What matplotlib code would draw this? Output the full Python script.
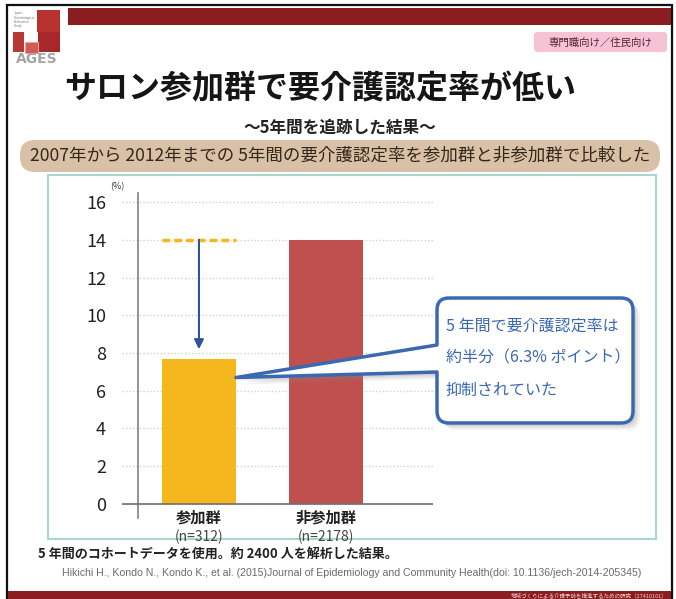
import matplotlib

matplotlib.use("Agg")

import matplotlib.pyplot as plt
from matplotlib.patches import FancyBboxPatch, PathPatch, Rectangle
from matplotlib.path import Path

plt.rcParams["font.family"] = ["Noto Sans CJK JP", "DejaVu Sans"]

# data
groups = ["参加群", "非参加群"]
sample_sizes = ["(n=312)", "(n=2178)"]
rates = [7.7, 14.0]
y_ticks = [0, 2, 4, 6, 8, 10, 12, 14, 16]

title = "サロン参加群で要介護認定率が低い"
subtitle = "～5年間を追跡した結果～"
banner = "2007年から 2012年までの 5年間の要介護認定率を参加群と非参加群で比較した"
callout_lines = ["5 年間で要介護認定率は", "約半分（6.3% ポイント）", "抑制されていた"]
footnote = "5 年間のコホートデータを使用。約 2400 人を解析した結果。"
citation = ("Hikichi H., Kondo N., Kondo K., et al. (2015)Journal of Epidemiology and "
            "Community Health(doi: 10.1136/jech-2014-205345)")

W, H = 676, 599
DARK_RED = "#8b1c20"
ORANGE = "#f4b71d"
RED = "#c0504d"
BLUE = "#3a69b2"

fig = plt.figure(figsize=(W / 100, H / 100), dpi=100)


def pixel_axes(label, zorder):
    axis = fig.add_axes([0, 0, 1, 1], label=label, zorder=zorder)
    axis.set_xlim(0, W)
    axis.set_ylim(H, 0)
    axis.axis("off")
    axis.patch.set_alpha(0)
    return axis


bg = pixel_axes("background", 0)

# slide frame and bands
bg.add_patch(Rectangle((7, 5), 665, 593, facecolor="none", edgecolor="#111111", lw=1.6))
bg.add_patch(Rectangle((68, 8), 603, 17, facecolor=DARK_RED, edgecolor="none"))
bg.add_patch(Rectangle((8, 591), 663, 8, facecolor=DARK_RED, edgecolor="none"))
bg.text(668, 595.5, "地域づくりによる介護予防を推進するための研究（27410101）",
        fontsize=4, color="#f0d8d8", ha="right", va="center")

# logo
bg.add_patch(Rectangle((37, 10), 23, 22, facecolor="#b83230", edgecolor="none"))
bg.add_patch(Rectangle((38, 32), 22, 20, facecolor="#a8282a", edgecolor="none"))
bg.add_patch(Rectangle((13, 32), 11, 20, facecolor="#b53a36", edgecolor="none"))
bg.add_patch(Rectangle((25, 42), 13, 11, facecolor="#d35a55", edgecolor="#e8a0a0", lw=0.8))
for i, word in enumerate(["Japan", "Gerontological", "Evaluation", "Study"]):
    bg.text(14, 13 + i * 4.5, word, fontsize=2.2, color="#777777", va="center",
            family="DejaVu Sans")
bg.text(37, 59, "AGES", fontsize=10, fontweight="bold", color="#a4a4a4",
        ha="center", va="center", family="DejaVu Sans")

# target audience tag
bg.add_patch(FancyBboxPatch((534, 32), 133, 20, boxstyle="round,pad=0,rounding_size=3",
                            facecolor="#f5c3d5", edgecolor="none"))
bg.text(600, 42.5, "専門職向け／住民向け", fontsize=7.5, color="#5a2030",
        ha="center", va="center")

# titles
bg.text(320, 89, title, fontsize=23, fontweight="bold", color="#151515",
        ha="center", va="center")
bg.text(340, 128, subtitle, fontsize=12, fontweight="bold", color="#222222",
        ha="center", va="center")

bg.add_patch(FancyBboxPatch((20, 140), 640, 32, boxstyle="round,pad=0,rounding_size=15",
                            facecolor="#d8c1a6", edgecolor="none"))
bg.text(340, 156, banner, fontsize=12.6, color="#33261b", ha="center", va="center")

# chart panel
bg.add_patch(Rectangle((48, 175), 608, 364, facecolor="white", edgecolor="#aad6d0", lw=1.5))
bg.text(110, 187, "(%)", fontsize=6.5, color="#333333", va="center")

bg.text(38, 554, footnote, fontsize=9.4, fontweight="bold", color="#222222", va="center")
bg.text(62, 573, citation, fontsize=7.6, color="#6a6a6a", va="center",
        family="Liberation Sans")

# bar chart
ax = fig.add_axes([122 / W, (H - 518) / H, 311 / W, 325 / H], zorder=1)
ax.patch.set_alpha(0)
bar_width = 0.583
positions = list(range(len(groups)))
ax.bar(positions, rates, width=bar_width, color=[ORANGE, RED], zorder=2)

ax.set_xlim(-0.606, 1.843)
ax.set_ylim(-0.742, 16.477)
ax.set_yticks(y_ticks)
ax.set_xticks([])
ax.grid(axis="y", linestyle=(0, (1, 1.5)), color="#d0d0d0", lw=1, zorder=0)
for side in ["top", "right", "bottom"]:
    ax.spines[side].set_visible(False)
ax.spines["left"].set_position(("data", -0.48))
ax.spines["left"].set_color("#808080")
ax.spines["left"].set_linewidth(1.2)
ax.axhline(0, color="#707070", lw=1.2, zorder=3)
ax.tick_params(axis="y", length=0, pad=23, labelsize=13, labelcolor="#222222")

for pos, name, n in zip(positions, groups, sample_sizes):
    ax.annotate(name, (pos, 0), xytext=(0, -9.5), textcoords="offset points",
                ha="center", va="center", fontsize=11, fontweight="bold", color="#222222")
    ax.annotate(n, (pos, 0), xytext=(0, -23.5), textcoords="offset points",
                ha="center", va="center", fontsize=10, color="#444444")

# non-participant level carried over the participant bar
ax.hlines(rates[1], positions[0] - bar_width / 2, positions[0] + bar_width / 2,
          colors=ORANGE, linestyles=(0, (2.2, 1.2)), lw=2.5, zorder=3)
ax.annotate("", xy=(positions[0], rates[0] + 0.5), xytext=(positions[0], rates[1]),
            arrowprops=dict(arrowstyle="-|>", color="#2f5597", lw=1.5,
                            mutation_scale=14, shrinkA=0, shrinkB=0), zorder=4)

# callout box with pointer
ov = pixel_axes("overlay", 2)
fig.canvas.draw()
tip_disp = ax.transData.transform((positions[0] + bar_width / 2, rates[0] - 1.0))
tip = (tip_disp[0], H - tip_disp[1])

x0, x1, y0, y1, r = 437, 633, 298, 423, 12


def callout_path(dx=0, dy=0):
    pts = [
        (x0 + r, y0), (x1 - r, y0), (x1, y0), (x1, y0 + r),
        (x1, y1 - r), (x1, y1), (x1 - r, y1),
        (x0 + r, y1), (x0, y1), (x0, y1 - r),
        (x0, 372), tip, (x0, 345),
        (x0, y0 + r), (x0, y0), (x0 + r, y0),
    ]
    codes = [
        Path.MOVETO, Path.LINETO, Path.CURVE3, Path.CURVE3,
        Path.LINETO, Path.CURVE3, Path.CURVE3,
        Path.LINETO, Path.CURVE3, Path.CURVE3,
        Path.LINETO, Path.LINETO, Path.LINETO,
        Path.LINETO, Path.CURVE3, Path.CURVE3,
    ]
    return Path([(px + dx, py + dy) for px, py in pts], codes)


for k, alpha in [(7, 0.10), (5, 0.15), (3, 0.2)]:
    ov.add_patch(PathPatch(callout_path(k, k), facecolor="#888888", edgecolor="none",
                           alpha=alpha))
ov.add_patch(PathPatch(callout_path(), facecolor="white", edgecolor=BLUE, lw=2.5,
                       joinstyle="round"))
for i, line in enumerate(callout_lines):
    ov.text(446, 326 + i * 32, line, fontsize=11.5, color=BLUE, va="center")

fig.savefig("out.png", dpi=100)
plt.close(fig)
